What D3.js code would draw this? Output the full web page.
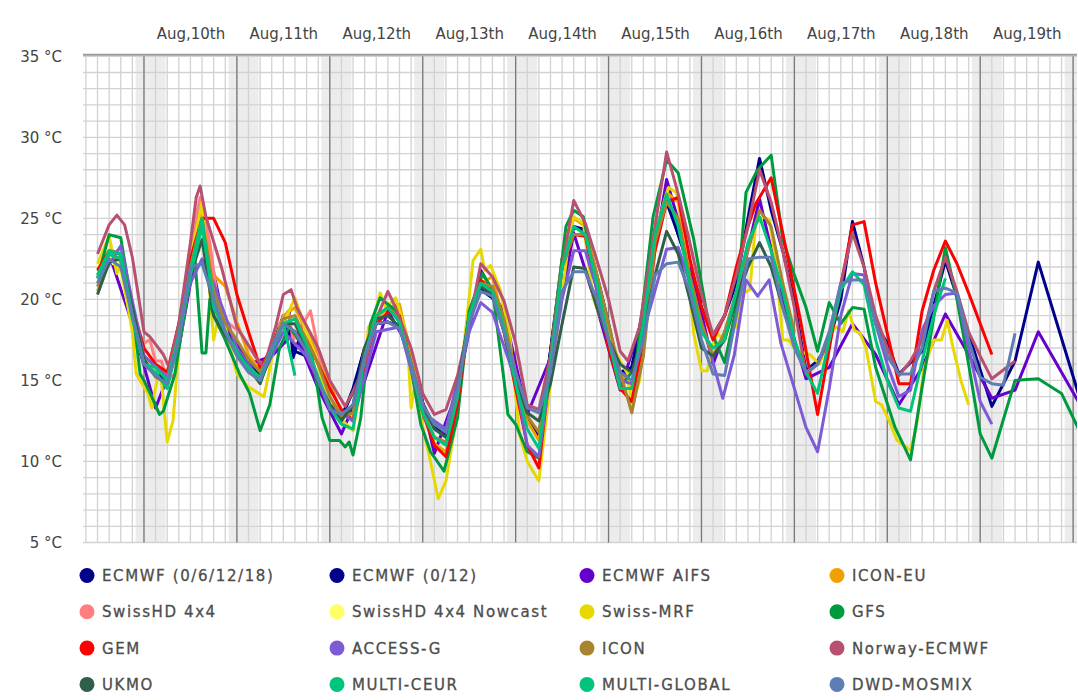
<!DOCTYPE html>
<html>
<head>
<meta charset="utf-8">
<script src="https://cdn.jsdelivr.net/npm/d3@7"></script>
<style>
  body { margin: 0; background: #fff; }
  text { font-family: "DejaVu Sans", sans-serif; }
</style>
</head>
<body>
<div id="chart"></div>
<script>
// every series: [hours after Aug 10 00:00, temperature in °C]
var ecmwf061218 = [[-12,22.0],[-9,22.3],[-6,22.0],[-3,19.0],[-1,16.7],[1,15.8],[3,15.5],[6,15.0],[9,18.0],[12,22.0],[14,25.0],[15,25.8],[17,21.0],[18,19.5],[21,18.3],[24,17.2],[27,16.3],[30,15.4],[33,16.8],[36,18.8],[37.5,19.3],[38.5,16.4],[40,17.5],[42,16.8],[45,15.0],[48,13.3],[51,12.8],[54,14.3],[57,17.0],[60,18.5],[63,18.6],[66,18.3],[69,16.2],[72,13.5],[75,12.2],[78,11.6],[81,14.6],[84,18.8],[87,20.6],[90,20.1],[93,18.9],[96,15.3],[99,12.7],[102,11.5],[105,16.8],[108,22.0],[111,24.4],[114,24.3],[117,21.5],[120,18.5],[123,15.2],[126,15.8],[129,19.5],[132,24.0],[135,26.0],[138,24.0],[141,22.0],[144,19.8]];
var ecmwf012 = [[-12,21.8],[-9,22.3],[-6,22.0],[-3,19.5],[0,16.5],[3,15.8],[6,15.2],[9,17.5],[12,21.5],[15,26.0],[18,19.8],[21,18.0],[24,17.0],[27,16.0],[30,15.2],[33,17.0],[36,19.0],[39,16.8],[42,16.5],[45,15.0],[48,13.2],[51,12.6],[54,14.5],[57,17.0],[60,18.5],[63,18.6],[66,18.3],[69,16.3],[72,13.6],[75,12.1],[78,11.5],[81,14.6],[84,18.8],[87,20.6],[90,20.1],[93,18.8],[96,15.4],[99,12.8],[102,11.5],[105,16.8],[108,22.5],[111,24.5],[114,24.3],[117,21.0],[120,17.8],[123,15.5],[126,15.8],[129,19.0],[132,23.5],[135,26.3],[138,24.0],[141,21.8],[144,19.5],[147,17.8],[150,19.0],[153,21.0],[156,25.0],[159,28.7],[162,25.5],[165,23.0],[168,19.9],[171,15.6],[174,16.2],[177,17.4],[180,20.0],[183,24.8],[186,22.0],[189,18.5],[192,17.3],[195,15.4],[201,16.8],[207,22.4],[219,13.4],[225,16.2],[231,22.3],[243,12.9]];
var ecmwfAifs = [[-9,22.8],[-3,18.5],[3,13.3],[9,17.0],[15,25.0],[21,18.3],[27,16.0],[33,16.5],[39,18.0],[45,14.5],[51,11.7],[57,15.0],[63,19.3],[69,16.8],[75,10.5],[81,14.4],[87,21.8],[93,19.2],[99,12.9],[105,16.4],[111,24.1],[117,19.5],[123,14.4],[129,19.0],[135,27.4],[141,22.3],[147,16.0],[153,20.0],[159,26.2],[165,20.0],[171,15.1],[177,15.8],[183,18.5],[189,16.6],[195,13.5],[201,15.8],[207,19.1],[213,16.6],[219,13.9],[225,14.4],[231,18.0],[243,13.0]];
var iconEu = [[-12,20.5],[-9,22.5],[-7,23.0],[-5,22.2],[-3,19.5],[0,16.5],[3,15.5],[6,15.4],[9,17.5],[12,22.0],[15,25.3],[18,21.5],[21,20.8],[24,18.6],[27,16.6],[30,15.6],[33,16.8],[36,19.0],[39,19.5],[42,18.0],[45,16.6],[48,14.8],[51,13.0],[54,12.7],[57,16.5],[60,18.8],[63,19.5],[66,19.7],[69,16.5],[72,13.5],[75,11.1],[78,10.6],[81,14.0],[84,19.0],[87,21.0],[90,21.4],[93,18.5],[96,15.3],[99,12.5],[102,11.3],[105,16.5],[108,22.5],[111,25.0],[114,24.5],[117,21.5],[120,18.0],[123,15.5],[126,14.5],[129,18.5],[132,24.0],[135,26.6],[138,26.0],[141,22.0]];
var swissHd = [[-12,21.5],[-9,22.8],[-8,23.0],[-5,21.6],[-2,18.3],[0,17.3],[1.5,17.5],[3,16.2],[4.5,16.2],[6,15.0],[8,15.4],[11,20.0],[13,24.5],[14.5,26.3],[17,23.5],[19,20.0],[21,18.7],[25,17.9],[29,16.4],[31,15.8],[34,18.3],[36,18.7],[37.5,19.1],[38.5,17.5],[40,18.0],[43,19.3],[44.5,17.5],[46,15.4],[48,14.6]];
var swissHdNowcast = [[-12,22.0],[-11,22.6],[-10,23.2],[-9,23.0],[-8,22.2],[-7,22.4],[-6,21.5],[-4,19.5],[-2,17.5],[0,16.3],[2,15.8],[3,15.5]];
var swissMrf = [[-12,22.2],[-9,23.9],[-7,21.6],[-6,22.1],[-3,18.0],[-2,15.4],[1,14.2],[2,13.3],[3.5,15.2],[4.5,15.0],[6,11.2],[7.5,12.5],[9,17.0],[12,22.5],[15,26.0],[18,17.5],[19,18.7],[21,18.3],[24,15.4],[27,14.6],[31,14.0],[34,17.5],[39,20.1],[41.5,18.3],[44.5,16.4],[46,15.0],[50.5,12.7],[54,11.9],[57,16.0],[58,18.3],[59,18.5],[61,20.4],[62.5,19.5],[65,20.1],[68,17.7],[69,13.3],[70,14.8],[71.5,12.7],[74,10.0],[76,7.7],[78,8.8],[80,11.7],[82.5,16.8],[85,22.4],[87,23.1],[88,21.8],[89.5,22.1],[92,20.6],[94.5,17.7],[97,11.7],[99,10.0],[102,8.8],[105,14.8],[110,24.1],[111,25.1],[113.5,24.7],[116,20.1],[119.5,17.9],[123,16.2],[125,15.4],[126,13.3],[128,15.0],[131,21.6],[133.5,25.1],[135.5,26.9],[137.5,26.6],[139.5,24.5],[142,17.9],[144,15.6],[145.5,15.6],[146.5,16.8],[148,17.9],[150,17.5],[151.5,18.7],[153,18.3],[155,20.4],[156.5,20.6],[158,24.7],[160,25.1],[161.5,24.9],[163,22.8],[165,17.5],[166.5,17.5],[168.5,16.8],[172,16.6],[174.5,16.0],[177,17.9],[179,18.3],[180.5,18.0],[182,19.3],[183.5,18.1],[185,17.9],[186.5,17.0],[189,13.7],[190.5,13.5],[192.5,12.5],[194.5,11.3],[198,10.7],[199.5,12.1],[201.5,15.8],[204,17.5],[206,17.5],[207.5,18.7],[209,17.0],[211,15.0],[213,13.5]];
var gfs = [[-12,21.3],[-9,24.0],[-6,23.8],[-3,19.5],[-1,15.4],[0,15.0],[2,14.0],[4,12.9],[5,13.1],[8,15.4],[12,21.5],[13,23.0],[15,16.7],[16,16.7],[17,20.0],[18,19.0],[21,17.5],[24.7,15.4],[27.3,14.2],[30,11.9],[32.5,13.5],[35,17.0],[37.5,18.3],[40,17.5],[43,17.0],[44.5,15.0],[46,12.7],[48,11.3],[50.5,11.3],[52,10.9],[53,11.2],[54,10.4],[56,12.7],[58.5,18.5],[61,20.1],[65,19.3],[68.5,16.4],[71.5,12.3],[74,10.6],[77.5,9.4],[81,12.7],[84,19.3],[87.5,21.6],[90,20.6],[93,15.0],[94,12.9],[96,12.3],[99,10.6],[102,10.2],[105,16.4],[109,24.5],[111,25.5],[113.5,25.1],[118.5,18.9],[123,14.6],[127,15.8],[131.5,25.1],[135,28.6],[138,27.8],[142,23.7],[146,18.3],[150,16.1],[153,19.5],[155.5,26.6],[158.5,28.0],[162,28.9],[165,23.7],[168,21.5],[171,19.5],[174,16.8],[177,19.8],[180,18.5],[183,19.5],[186,19.4],[189,15.8],[194,12.1],[198,10.1],[201,14.6],[204,18.9],[207,23.2],[210,20.0],[213,16.0],[216,11.7],[219,10.2],[225,15.0],[231,15.1],[237,14.2],[243,11.2]];
var gem = [[-12,21.8],[-9,23.0],[-6,22.8],[-3,19.5],[0,17.0],[3,16.0],[6,15.5],[9,18.5],[12,22.5],[15,25.0],[18,25.0],[21,23.5],[24,20.3],[27,18.0],[30,15.8],[33,17.0],[36,18.5],[39,18.0],[42,17.5],[45,16.0],[48,14.5],[51,13.2],[54,12.5],[57,16.0],[60,18.5],[63,19.2],[66,19.0],[69,16.0],[72,13.0],[75,11.0],[78,10.3],[81,13.5],[84,19.0],[87,21.2],[90,20.5],[93,18.0],[96,14.5],[99,11.0],[102,9.6],[105,16.0],[108,22.0],[111,24.0],[114,23.9],[117,20.5],[120,17.0],[123,14.5],[126,13.7],[129,17.5],[132,23.0],[135,26.0],[138,26.3],[141,22.5],[144,19.5],[147,17.5],[150,19.0],[153,22.0],[156,24.5],[158,25.9],[162,27.5],[165,24.1],[169.5,18.8],[174,12.9],[178,18.3],[183,24.6],[186,24.8],[189,21.0],[195,14.8],[198,14.8],[201,19.3],[204,21.8],[207,23.6],[210,22.2],[213,20.4],[219,16.6]];
var accessG = [[-12,21.0],[-6,23.3],[0,16.5],[6,15.2],[12,21.0],[15,22.5],[18,21.0],[24,17.0],[30,15.0],[36,18.0],[42,16.5],[48,13.5],[54,12.5],[60,18.0],[66,18.3],[72,13.0],[78,12.0],[84,18.0],[87,19.8],[90,19.2],[96,15.0],[99,11.0],[102,10.3],[105,15.5],[108,20.0],[111,23.0],[114,23.0],[117,20.6],[120,17.5],[123,15.0],[126,14.8],[129,18.0],[135,23.1],[138,23.2],[141,21.0],[146,17.0],[149.5,13.9],[152.5,16.6],[155.5,21.2],[158.5,20.2],[161.5,21.2],[164.5,17.3],[171,12.1],[174,10.6],[177,14.5],[180,19.0],[183,21.6],[186,21.5],[189,18.5],[192,16.0],[195,14.0],[198,14.4],[201,18.1],[204,19.6],[207,20.3],[210,20.4],[213,17.0],[216,13.7],[219,12.3]];
var icon = [[-12,20.8],[-9,22.8],[-6,22.5],[-3,19.0],[0,16.2],[3,15.2],[6,14.8],[9,17.8],[12,22.0],[15,25.0],[18,20.5],[21,18.5],[24,17.5],[27,16.3],[30,15.5],[33,17.0],[36,18.8],[39,19.0],[42,17.5],[45,16.0],[48,14.0],[51,12.8],[54,13.0],[57,17.0],[60,19.0],[63,19.5],[66,18.8],[69,16.0],[72,13.0],[75,11.5],[78,11.2],[81,14.5],[84,19.0],[87,21.0],[90,20.8],[93,18.8],[96,15.5],[99,12.8],[102,11.8],[105,16.0],[108,22.0],[111,24.0],[114,24.0],[117,21.5],[120,18.5],[123,15.5],[126,13.0],[129,16.5],[132,23.5],[135,26.0],[138,25.0],[141,21.5],[144,18.5],[147,16.5],[150,18.0],[153,20.5],[156,23.0],[159,25.5],[162,24.5],[165,21.0],[168,18.0]];
var norwayEcmwf = [[-12,22.8],[-9,24.6],[-7,25.2],[-5,24.6],[-3,22.6],[0,18.0],[1.5,17.7],[5,16.6],[6.5,15.8],[9,18.5],[12,23.5],[13.5,26.3],[14.5,27.0],[16,25.1],[20,22.0],[24,18.3],[29,16.4],[31,15.8],[34,18.3],[36,20.3],[38,20.6],[39.5,19.5],[45,17.0],[48,15.0],[50,14.2],[52,13.4],[54,14.3],[57,16.0],[60,18.8],[63,20.5],[65,19.5],[69,17.0],[72,14.2],[75,12.9],[78,13.2],[81,15.3],[84,18.5],[87,22.2],[90,21.4],[93,19.9],[96,17.3],[99,13.5],[102,13.2],[105,16.5],[108,22.0],[111,26.1],[114,24.7],[117,22.4],[120,20.0],[123,16.8],[125,16.2],[128,18.3],[132,24.5],[135,29.1],[138,26.5],[141,23.5],[144,20.3],[147,17.8],[150,19.0],[153,21.5],[156,24.5],[159,28.0],[162,26.0],[165,23.0],[168,19.5],[171,15.4],[174,16.0],[177,17.5],[180,21.0],[183,24.1],[186,22.0],[189,19.0],[192,17.0],[195,15.3],[198,16.2],[201,17.5],[204,20.5],[207,22.6],[210,20.5],[213,18.0],[216,16.5],[219,15.1],[225,16.2]];
var ukmo = [[-12,20.3],[-9,22.3],[-6,22.5],[-3,19.5],[0,16.3],[3,15.3],[6,14.8],[9,17.5],[12,21.5],[15,23.7],[18,19.0],[21,17.8],[24,16.8],[27,15.8],[30,14.8],[33,16.8],[36,18.5],[39,18.5],[42,17.0],[45,15.0],[48,13.5],[51,12.5],[54,13.5],[57,17.0],[60,18.8],[63,19.0],[66,18.3],[69,16.0],[72,13.5],[75,12.0],[78,11.5],[81,14.5],[84,19.0],[87,20.8],[90,20.3],[93,18.0],[96,15.0],[99,13.0],[102,12.5],[105,14.8],[108,18.5],[111,22.0],[114,21.9],[117,19.5],[120,17.5],[123,16.0],[126,15.5],[129,18.0],[132,21.5],[135,24.2],[138,22.8],[141,20.0],[144,17.0],[147,16.5],[150,17.5],[153,20.0],[156,22.0],[159,23.5],[162,22.0],[165,19.5],[168,17.5]];
var multiCeur = [[-12,21.3],[-9,22.8],[-6,22.5],[-3,18.8],[0,16.0],[3,15.8],[6,15.0],[9,17.8],[12,21.8],[15,25.0],[18,19.5],[21,18.0],[24,16.7],[27,15.8],[30,15.2],[33,17.0],[36,18.5],[38,16.4],[39,15.3]];
var multiGlobal = [[-12,21.5],[-9,23.0],[-6,22.8],[-3,19.0],[0,16.0],[3,15.5],[6,14.5],[9,17.5],[12,21.5],[15,24.5],[18,20.0],[21,18.0],[24,16.8],[27,15.6],[30,15.0],[33,16.8],[36,18.5],[39,18.8],[42,17.2],[45,15.2],[48,13.3],[51,12.3],[54,12.0],[57,16.5],[60,19.0],[63,19.5],[66,18.6],[69,16.0],[72,13.0],[75,11.5],[78,11.0],[81,14.0],[84,19.0],[87,21.0],[90,20.5],[93,18.3],[96,14.8],[99,12.0],[102,10.8],[105,16.0],[108,22.0],[111,24.5],[114,24.0],[117,21.0],[120,17.5],[123,14.5],[126,14.5],[129,18.5],[132,24.0],[135,26.5],[138,24.5],[141,21.0],[144,18.0],[147,17.0],[150,17.5],[153,20.5],[156,23.5],[159,25.1],[162,23.0],[165,20.5],[168,17.5],[171,15.5],[174,14.2],[177,17.5],[180,20.6],[183,21.7],[186,20.9],[189,17.5],[192,15.0],[195,13.3],[198,13.1],[201,16.2],[204,19.0],[207,21.3]];
var dwdMosmix = [[-12,21.0],[-9,22.5],[-6,22.0],[-3,19.0],[0,16.0],[3,15.3],[6,14.8],[9,17.5],[12,22.0],[15,22.2],[18,20.0],[21,18.0],[24,16.5],[27,15.5],[30,15.0],[33,17.0],[36,18.5],[39,18.0],[42,16.8],[45,15.0],[48,13.2],[51,12.9],[54,13.5],[57,16.5],[60,18.5],[63,18.6],[66,18.2],[69,16.0],[72,13.5],[75,12.3],[78,11.8],[81,14.5],[84,18.5],[87,20.5],[90,20.2],[93,18.0],[96,15.5],[99,13.3],[102,13.0],[105,15.5],[108,20.5],[111,21.7],[114,21.7],[117,20.0],[120,17.5],[123,15.5],[126,15.0],[129,17.5],[132,21.5],[135,22.2],[138,22.3],[141,20.5],[144,17.5],[147,15.4],[150,15.3],[153,19.0],[156,22.5],[159,22.6],[162,22.6],[165,19.5],[168,17.0],[171,15.5],[174,16.0],[177,18.0],[180,21.0],[183,21.2],[186,21.2],[189,18.5],[192,16.5],[195,15.4],[198,15.4],[201,17.0],[204,20.5],[207,20.7],[210,20.4],[213,17.5],[216,15.2],[219,14.8],[222,14.7],[225,17.9]];

var modelNames = ["ECMWF (0/6/12/18)", "ECMWF (0/12)", "ECMWF AIFS", "ICON-EU",
                  "SwissHD 4x4", "SwissHD 4x4 Nowcast", "Swiss-MRF", "GFS",
                  "GEM", "ACCESS-G", "ICON", "Norway-ECMWF",
                  "UKMO", "MULTI-CEUR", "MULTI-GLOBAL", "DWD-MOSMIX"];
var modelColors = ["#00008b", "#00008b", "#6600cc", "#f0a000",
                   "#ff7f7f", "#ffff66", "#e6d800", "#009a3e",
                   "#ff0000", "#7e5bd6", "#a88430", "#b85070",
                   "#2f5e4a", "#00c47c", "#00c47c", "#5f7db5"];
var modelSeries = [ecmwf061218, ecmwf012, ecmwfAifs, iconEu,
                   swissHd, swissHdNowcast, swissMrf, gfs,
                   gem, accessG, icon, norwayEcmwf,
                   ukmo, multiCeur, multiGlobal, dwdMosmix];
var dayLabels = ["Aug,10th", "Aug,11th", "Aug,12th", "Aug,13th", "Aug,14th",
                 "Aug,15th", "Aug,16th", "Aug,17th", "Aug,18th", "Aug,19th"];
var tempTicks = [5, 10, 15, 20, 25, 30, 35];

var width = 1078, height = 700,
    plot = { left: 83, right: 1077, top: 56.3, bottom: 542.5 };

var t0 = Date.UTC(2025, 7, 10);
function toDate(h) { return new Date(t0 + h * 3600e3); }

var x = d3.scaleUtc()
    .domain([toDate(-15.75), toDate(241)])
    .range([plot.left, plot.right]);
var y = d3.scaleLinear().domain([5, 35]).range([plot.bottom, plot.top]);

var svg = d3.select("#chart").append("svg")
    .attr("width", width)
    .attr("height", height);

svg.append("clipPath").attr("id", "plotclip")
  .append("rect")
    .attr("x", plot.left).attr("y", plot.top - 4)
    .attr("width", plot.right - plot.left).attr("height", plot.bottom - plot.top + 8);

var grid = svg.append("g").attr("clip-path", "url(#plotclip)");

// night shading
var midnights = d3.utcDay.range(toDate(-24), toDate(264));
grid.selectAll(".night")
    .data(midnights)
  .enter().append("rect")
    .attr("x", function(d) { return x(d3.utcMinute.offset(d, -130)); })
    .attr("y", plot.top)
    .attr("width", function(d) { return x(d3.utcMinute.offset(d, 335)) - x(d3.utcMinute.offset(d, -130)); })
    .attr("height", plot.bottom - plot.top)
    .style("fill", "#ececec");

// 3-hourly and 1 °C grid
grid.selectAll(".vgrid")
    .data(d3.utcHour.every(3).range(x.domain()[0], x.domain()[1]))
  .enter().append("line")
    .attr("x1", function(d) { return x(d); })
    .attr("x2", function(d) { return x(d); })
    .attr("y1", plot.top).attr("y2", plot.bottom)
    .style("stroke", "#d2d2d2").style("stroke-width", 1.3);

grid.selectAll(".hgrid")
    .data(d3.range(5, 36))
  .enter().append("line")
    .attr("x1", plot.left).attr("x2", plot.right)
    .attr("y1", function(d) { return y(d); })
    .attr("y2", function(d) { return y(d); })
    .style("stroke", "#d2d2d2").style("stroke-width", 1.3);

grid.selectAll(".midnight")
    .data(midnights)
  .enter().append("line")
    .attr("x1", function(d) { return x(d); })
    .attr("x2", function(d) { return x(d); })
    .attr("y1", plot.top).attr("y2", plot.bottom)
    .style("stroke", "#7a7a7a").style("stroke-width", 1.3);

svg.append("line")
    .attr("x1", plot.left).attr("x2", plot.right)
    .attr("y1", plot.top - 1.5).attr("y2", plot.top - 1.5)
    .style("stroke", "#9a9a9a").style("stroke-width", 2);

// axes
var yAxis = svg.append("g")
    .attr("transform", "translate(62,0)")
    .call(d3.axisLeft(y).tickValues(tempTicks).tickSize(0).tickPadding(0)
      .tickFormat(function(d) { return d + " °C"; }));
yAxis.select(".domain").remove();
yAxis.selectAll("text").style("font-size", "15px").style("fill", "#444")
    .style("font-family", "'DejaVu Sans', sans-serif");

var noons = d3.utcDay.range(toDate(0), toDate(240)).map(function(d) { return d3.utcHour.offset(d, 12); });
var xAxis = svg.append("g")
    .attr("transform", "translate(0,39)")
    .call(d3.axisTop(x).tickValues(noons).tickSize(0).tickPadding(0)
      .tickFormat(function(d, i) { return dayLabels[i]; }));
xAxis.select(".domain").remove();
xAxis.selectAll("text").style("font-size", "15px").style("fill", "#444")
    .style("font-family", "'DejaVu Sans', sans-serif");

// model lines
var line = d3.line()
    .x(function(d) { return x(toDate(d[0])); })
    .y(function(d) { return y(d[1]); });

var lines = svg.append("g").attr("clip-path", "url(#plotclip)");
lines.selectAll(".model")
    .data(modelSeries)
  .enter().append("path")
    .attr("d", line)
    .style("fill", "none")
    .style("stroke", function(d, i) { return modelColors[i]; })
    .style("stroke-width", 3)
    .style("stroke-linejoin", "round");

// legend
var legend = svg.selectAll(".legend")
    .data(modelNames)
  .enter().append("g")
    .attr("transform", function(d, i) {
      return "translate(" + (87 + (i % 4) * 250) + "," + (575.5 + Math.floor(i / 4) * 36.3) + ")";
    });
legend.append("circle")
    .attr("r", 7.5)
    .style("fill", function(d, i) { return modelColors[i]; });
legend.append("text")
    .attr("x", 15)
    .attr("dy", "0.36em")
    .text(function(d) { return d; })
    .style("font-size", "15px")
    .style("letter-spacing", "1.6px")
    .style("fill", "#4d4d4d")
    .style("stroke", "#4d4d4d")
    .style("stroke-width", 0.3);
</script>
</body>
</html>
